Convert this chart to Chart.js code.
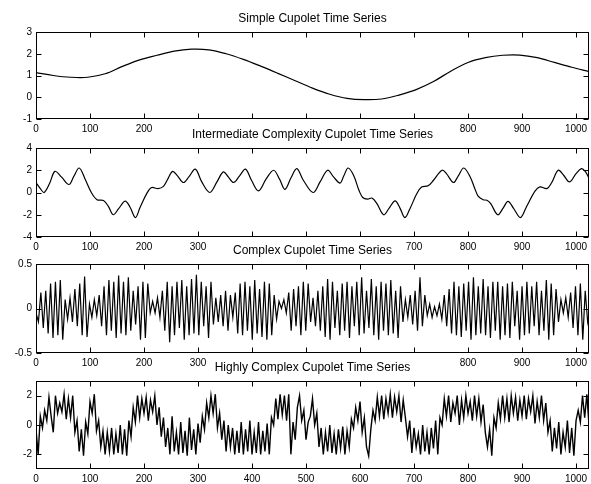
<!DOCTYPE html>
<html>
<head>
<meta charset="utf-8">
<script src="https://cdn.jsdelivr.net/npm/chart.js@4.4.0/dist/chart.umd.min.js"></script>
<style>
  body { margin: 0; background: #fff; width: 591px; height: 484px; position: relative; overflow: hidden; }
  canvas { position: absolute; left: 0; }
</style>
</head>
<body>
<canvas id="c1"></canvas>
<canvas id="c2"></canvas>
<canvas id="c3"></canvas>
<canvas id="c4"></canvas>
<script>
// ---- data ----
var xTicks = [0, 100, 200, 300, 400, 500, 600, 700, 800, 900, 1000];

// simple cupolet
var simpleT = [0, 32, 64, 96, 128, 160, 192, 224, 256, 288, 320, 352, 384, 416, 448, 480, 512,
               544, 576, 608, 640, 672, 704, 736, 768, 800, 832, 864, 896, 928, 960, 992, 1024];
var simpleV = [1.13, 1.0, 0.92, 0.92, 1.08, 1.42, 1.72, 1.93, 2.12, 2.21, 2.18, 2.0, 1.74, 1.43, 1.1, 0.76, 0.42,
               0.14, -0.05, -0.11, -0.08, 0.1, 0.35, 0.72, 1.2, 1.6, 1.82, 1.93, 1.94, 1.82, 1.6, 1.38, 1.18];
var simpleTicks = [-1, 0, 1, 2, 3];

// intermediate complexity (peaks, troughs, shoulders)
var interT = [0, 8, 15, 25, 35, 47, 61, 70, 80, 91, 103, 113, 125, 134, 143, 153, 165, 174, 184, 193,
              205, 214, 226, 236, 244, 253, 262, 273, 283, 295, 307, 322, 335, 347, 356, 366, 377, 388, 399, 412,
              426, 440, 451, 461, 472, 483, 495, 513, 526, 540, 551, 563, 570, 578, 588, 598, 605, 614, 622, 631,
              644, 654, 665, 674, 683, 692, 705, 714, 726, 736, 752, 760, 773, 782, 792, 804, 813, 819, 828, 835,
              842, 855, 865, 874, 884, 897, 908, 924, 933, 946, 955, 967, 977, 988, 1000, 1010, 1017, 1024];
var interV = [0.9, 0.35, 0.0, 0.8, 1.9, 1.4, 0.72, 1.45, 2.2, 1.2, -0.05, -0.65, -0.72, -1.25, -2.0, -1.45, -0.77, -1.3, -2.25, -1.3,
              -0.1, 0.45, 0.35, 0.55, 1.2, 1.9, 1.5, 0.9, 1.4, 2.1, 0.95, 0.0, 0.95, 1.85, 1.4, 0.9, 1.5, 2.1, 1.1, 0.15,
              1.2, 2.0, 1.2, 0.28, 1.3, 2.15, 1.1, 0.0, 0.95, 2.0, 1.4, 0.85, 1.5, 2.2, 1.55, 0.2, -0.45, -0.6, -0.5, -0.97,
              -2.0, -1.4, -0.75, -1.4, -2.25, -1.5, -0.12, 0.5, 0.6, 1.1, 2.0, 1.7, 0.9, 1.5, 2.2, 1.4, 0.3, -0.35, -0.65, -0.7,
              -1.0, -2.0, -1.4, -0.8, -1.4, -2.25, -1.3, 0.12, 0.5, 0.35, 0.9, 2.0, 1.55, 0.95, 1.7, 2.15, 1.9, 1.3];
var interTicks = [-4, -2, 0, 2, 4];

// complex cupolet, one value per half swing (every 4.5 samples)
var complexStep = 4.5;
var complexV = [
  -0.05, -0.15, 0.18, -0.22, 0.2, -0.28, 0.28, -0.33, 0.3, -0.3,
  0.32, -0.35, 0.1, -0.12, 0.12, -0.15, 0.22, -0.2, 0.28, -0.3,
  0.36, -0.32, 0.05, -0.1, 0.1, -0.08, 0.15, -0.2, 0.25, -0.3,
  0.32, -0.25, 0.3, -0.33, 0.37, -0.28, 0.3, -0.3, 0.35, -0.25,
  0.2, -0.18, 0.25, -0.35, 0.3, -0.33, 0.28, -0.05, 0.08, -0.05,
  0.12, -0.1, 0.2, -0.25, 0.3, -0.38, 0.25, -0.3, 0.3, -0.22,
  0.32, -0.35, 0.25, -0.3, 0.33, -0.28, 0.38, -0.3, 0.3, -0.2,
  0.25, -0.33, 0.3, -0.18, 0.12, -0.15, 0.15, -0.2, 0.2, -0.25,
  0.15, -0.1, 0.18, -0.28, 0.28, -0.3, 0.3, -0.25, 0.25, -0.35,
  0.32, -0.28, 0.22, -0.32, 0.3, -0.35, 0.28, -0.3, 0.15, -0.12,
  0.08, 0.0, 0.1, -0.05, 0.18, -0.25, 0.22, -0.2, 0.25, -0.3,
  0.3, -0.25, 0.28, -0.15, 0.12, -0.2, 0.2, -0.25, 0.25, -0.32,
  0.33, -0.35, 0.3, -0.22, 0.2, -0.3, 0.28, -0.25, 0.3, -0.33,
  0.25, -0.2, 0.3, -0.3, 0.35, -0.28, 0.2, -0.22, 0.33, -0.3,
  0.25, -0.35, 0.3, -0.25, 0.28, -0.3, 0.32, -0.28, 0.2, -0.33,
  0.25, -0.15, 0.1, -0.1, 0.15, -0.18, 0.2, -0.25, 0.35, -0.2,
  0.15, -0.08, 0.05, -0.1, 0.02, -0.08, 0.05, -0.12, 0.15, -0.2,
  0.22, -0.28, 0.3, -0.3, 0.25, -0.32, 0.28, -0.25, 0.3, -0.35,
  0.35, -0.3, 0.25, -0.28, 0.33, -0.3, 0.25, -0.33, 0.3, -0.25,
  0.3, -0.35, 0.25, -0.3, 0.28, -0.33, 0.3, -0.2, 0.2, -0.35,
  0.25, -0.3, 0.3, -0.28, 0.25, -0.2, 0.3, -0.3, 0.2, -0.25,
  0.32, -0.35, 0.28, -0.3, 0.22, -0.15, 0.1, -0.05, 0.12, -0.1,
  0.18, -0.22, 0.25, -0.3, 0.28, -0.35, 0.2, -0.15, 0.0
];
var complexTicks = [-0.5, 0, 0.5];

// highly complex cupolet, one value every 4 samples
var highStep = 4;
var highV = [
  -0.3, -2.0, 0.6, -0.2, 1.0, 0.3, 1.9, 0.6, -0.5, 2.0,
  0.8, 1.5, 0.9, 2.1, 0.4, 1.8, 0.5, 2.0, -0.5, 0.3,
  -1.8, -0.3, -2.1, 0.2, -0.6, 1.6, 0.8, 2.1, -0.4, 0.3,
  -1.5, -0.4, -2.0, -0.5, -1.8, -0.2, -2.0, -0.6, -1.9, 0.0,
  -2.0, -0.3, -2.1, 0.3, -0.8, 1.2, 0.2, 2.0, 0.5, 1.8,
  0.8, 1.9, 0.3, 1.7, 0.9, 2.0, 0.0, 1.2, -0.8, 0.5,
  -1.5, -0.2, -2.0, 0.6, -1.8, -0.5, -2.0, 0.2, -1.9, -0.4,
  -2.1, 0.5, -1.7, -0.3, -2.0, 0.1, -1.2, 0.6, -0.3, 1.5,
  0.5, 2.0, 0.8, 2.1, -0.2, 0.8, -1.0, 0.3, -1.8, 0.0,
  -1.5, -0.2, -2.0, -0.4, -1.9, 0.2, -2.0, -0.3, -1.8, 0.3,
  -2.0, -0.5, -1.9, 0.2, -2.0, -0.4, -1.8, 0.1, -2.0, 0.5,
  0.0, 1.8, 0.4, 2.1, 0.7, 2.0, 0.3, 2.1, -2.0, 0.2,
  -1.0, 1.2, 2.0, 0.3, 1.0, -1.0, 0.2, 0.6, 1.8, 0.0,
  0.8, -1.5, -0.2, -2.0, -0.5, -1.8, 0.0, -1.9, -0.6, -2.0,
  -0.3, -1.6, -0.1, -2.0, -0.4, -1.5, 0.4, -0.2, 1.2, 0.3,
  1.6, -0.5, 0.5, -1.5, -2.1, -0.3, 1.0, 0.3, 1.9, 0.6,
  2.0, 0.4, 1.8, 0.8, 2.1, 0.5, 1.9, 0.9, 2.0, 0.2,
  1.7, 0.5, -0.8, 0.3, -1.9, -0.2, -1.5, -0.6, -2.0, 0.0,
  -1.8, -0.5, -2.0, -0.2, -1.6, 0.3, -2.0, 0.5, 0.0, 1.8,
  0.6, 2.0, 0.2, 1.5, 0.8, 2.0, 0.0, 1.7, 0.5, 2.0,
  0.8, 1.6, 0.3, 2.0, 0.6, 1.8, 0.2, 1.4, -0.5, -1.5,
  -0.3, -2.1, 0.5, -0.2, 1.5, 0.4, 2.0, 0.5, 1.8, 0.2,
  2.0, 0.8, 1.9, 0.3, 1.7, 0.6, 2.0, 0.4, 1.8, 0.9,
  2.0, 0.1, 1.6, 0.5, 2.0, 0.3, 1.5, -0.5, 0.3, -1.8,
  -0.2, -1.6, 0.2, -2.0, -0.5, -1.5, 0.3, -1.9, -0.2, -2.1,
  0.3, 1.0, 0.2, 2.0, 0.5, 2.1, 0.0
];
var highTicks = [-2, 0, 2];

// ---- drawing ----
var FONT = "'Liberation Sans', Arial, Helvetica, sans-serif";

function pairs(ts, vs) {
  return vs.map(function (v, i) { return { x: ts[i], y: v }; });
}
function stepped(step, vs) {
  return vs.map(function (v, i) { return { x: i * step, y: v }; });
}
function plain(v) { return String(v); }

// white patch behind the title: hides every tick label of the axes above
// that touches the title text (like the original figure), then the
// MATLAB style box with inward ticks on all four sides
var matlabBox = {
  id: 'matlabBox',
  beforeDraw: function (chart) {
    var ctx = chart.ctx, a = chart.chartArea, xs = chart.scales.x;
    var t = chart.options.plugins.title;
    ctx.save();
    ctx.font = t.font.size + 'px ' + FONT;
    var w = ctx.measureText(t.text).width;
    var cx = (a.left + a.right) / 2;
    var x0 = cx - w / 2, x1 = cx + w / 2;
    ctx.font = '10px ' + FONT;
    xTicks.forEach(function (v) {
      var p = xs.getPixelForValue(v);
      var lw = ctx.measureText(String(v)).width / 2 + 1;
      if (p + lw > x0 && p - lw < x1) {
        x0 = Math.min(x0, p - lw);
        x1 = Math.max(x1, p + lw);
      }
    });
    ctx.fillStyle = '#fff';
    ctx.fillRect(x0 - 1, 3, x1 - x0 + 2, a.top - 9);
    ctx.restore();
  },
  afterDraw: function (chart) {
    var ctx = chart.ctx, a = chart.chartArea;
    var xs = chart.scales.x, ys = chart.scales.y;
    var L = Math.round(a.left) + 0.5, R = Math.round(a.right) - 0.5;
    var T = Math.round(a.top) + 0.5, B = Math.round(a.bottom) - 0.5;
    var len = 5;
    ctx.save();
    ctx.strokeStyle = '#000';
    ctx.lineWidth = 1;
    ctx.strokeRect(L, T, R - L, B - T);
    ctx.beginPath();
    xs.ticks.forEach(function (tk) {
      var p = Math.round(xs.getPixelForValue(tk.value)) + 0.5;
      ctx.moveTo(p, T); ctx.lineTo(p, T + len);
      ctx.moveTo(p, B); ctx.lineTo(p, B - len);
    });
    ys.ticks.forEach(function (tk) {
      var p = Math.round(ys.getPixelForValue(tk.value)) + 0.5;
      ctx.moveTo(L, p); ctx.lineTo(L + len, p);
      ctx.moveTo(R, p); ctx.lineTo(R - len, p);
    });
    ctx.stroke();
    ctx.restore();
  }
};

function makeChart(id, title, points, yRange, yTicks, smooth, lineW, box) {
  var cv = document.getElementById(id);
  var head = 28, foot = 20;
  cv.width = 591;
  cv.height = box.bottom - box.top + head + foot;
  cv.style.top = (box.top - head) + 'px';

  return new Chart(cv.getContext('2d'), {
    type: 'line',
    data: {
      datasets: [{
        data: points,
        borderColor: '#000',
        borderWidth: lineW,
        pointRadius: 0,
        fill: false,
        tension: smooth ? 0.35 : 0
      }]
    },
    options: {
      responsive: false,
      maintainAspectRatio: false,
      animation: false,
      devicePixelRatio: 1,
      events: [],
      layout: { padding: { left: 0, right: 2, top: 0, bottom: 0 } },
      plugins: {
        legend: { display: false },
        tooltip: { enabled: false },
        title: {
          display: true,
          text: title,
          fullSize: false,
          color: '#000',
          font: { family: FONT, size: 12, weight: 'normal', lineHeight: 1.2 },
          padding: { top: 7.3, bottom: 6.3 }
        }
      },
      scales: {
        x: {
          type: 'linear',
          min: 0,
          max: 1024,
          grid: { display: false, drawTicks: false },
          border: { display: false },
          ticks: { color: '#000', font: { family: FONT, size: 10 }, padding: 4, maxRotation: 0, callback: plain },
          afterBuildTicks: function (s) { s.ticks = xTicks.map(function (v) { return { value: v }; }); },
          afterFit: function (s) { s.height = foot; s.paddingLeft = 0; s.paddingRight = 0; }
        },
        y: {
          type: 'linear',
          min: yRange[0],
          max: yRange[1],
          grid: { display: false, drawTicks: false },
          border: { display: false },
          ticks: { color: '#000', font: { family: FONT, size: 10 }, padding: 4, callback: plain },
          afterBuildTicks: function (s) { s.ticks = yTicks.map(function (v) { return { value: v }; }); },
          afterFit: function (s) { s.width = 36; s.paddingTop = 0; s.paddingBottom = 0; }
        }
      }
    },
    plugins: [matlabBox]
  });
}

makeChart('c1', 'Simple Cupolet Time Series', pairs(simpleT, simpleV), [-1, 3], simpleTicks, true, 1.2, { top: 32, bottom: 119 });
makeChart('c2', 'Intermediate Complexity Cupolet Time Series', pairs(interT, interV), [-4, 4], interTicks, true, 1.2, { top: 148, bottom: 237 });
makeChart('c3', 'Complex Cupolet Time Series', stepped(complexStep, complexV), [-0.5, 0.5], complexTicks, false, 1.2, { top: 264, bottom: 353 });
makeChart('c4', 'Highly Complex Cupolet Time Series', stepped(highStep, highV), [-3, 3], highTicks, false, 1.4, { top: 381, bottom: 469 });
</script>
</body>
</html>
